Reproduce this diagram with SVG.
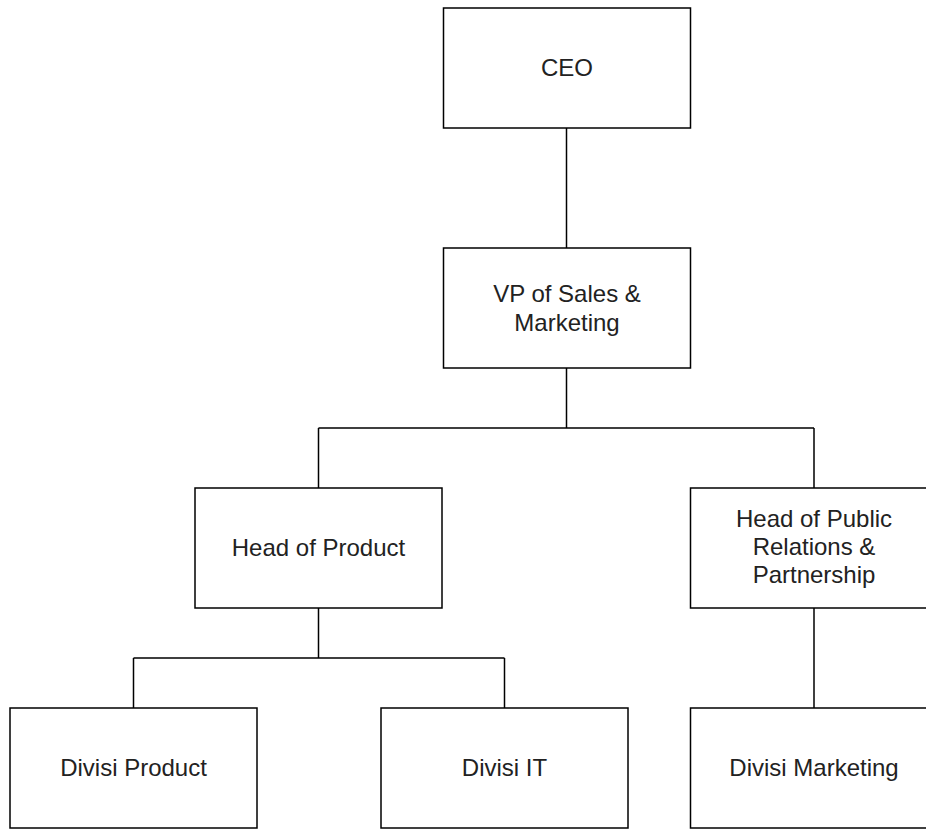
<svg xmlns="http://www.w3.org/2000/svg" width="926" height="829" viewBox="0 0 926 829">
<style>
.box{fill:#ffffff;stroke:#000000;stroke-width:1.5}
.lbl{font-family:"Liberation Sans",Arial,sans-serif;font-size:24px;fill:#222222;text-anchor:middle}
.edge{fill:none;stroke:#000000;stroke-width:1.5}
</style>
<rect width="926" height="829" fill="#ffffff"/>
<g id="connectors">
<path class="edge" d="M566.5 128 V248"/>
<path class="edge" d="M566.5 368 V428 M318.5 428 H814 M318.5 428 V488 M814 428 V488"/>
<path class="edge" d="M318.5 608 V658 M133.5 658 H504.5 M133.5 658 V708 M504.5 658 V708"/>
<path class="edge" d="M814 608 V708"/>
</g>
<g id="ceo"><rect class="box" x="443.5" y="8" width="247" height="120"/><text class="lbl" x="567" y="76">CEO</text></g>
<g id="vp"><rect class="box" x="443.5" y="248" width="247" height="120"/><text class="lbl" x="567" y="302">VP of Sales &amp;</text><text class="lbl" x="567" y="331">Marketing</text></g>
<g id="head-product"><rect class="box" x="195" y="488" width="247" height="120"/><text class="lbl" x="318.5" y="556">Head of Product</text></g>
<g id="head-pr"><rect class="box" x="690.5" y="488" width="247" height="120"/><text class="lbl" x="814" y="527">Head of Public</text><text class="lbl" x="814" y="555">Relations &amp;</text><text class="lbl" x="814" y="583">Partnership</text></g>
<g id="divisi-product"><rect class="box" x="10" y="708" width="247" height="120"/><text class="lbl" x="133.5" y="776">Divisi Product</text></g>
<g id="divisi-it"><rect class="box" x="381" y="708" width="247" height="120"/><text class="lbl" x="504.5" y="776">Divisi IT</text></g>
<g id="divisi-marketing"><rect class="box" x="690.5" y="708" width="247" height="120"/><text class="lbl" x="814" y="776">Divisi Marketing</text></g>
</svg>
